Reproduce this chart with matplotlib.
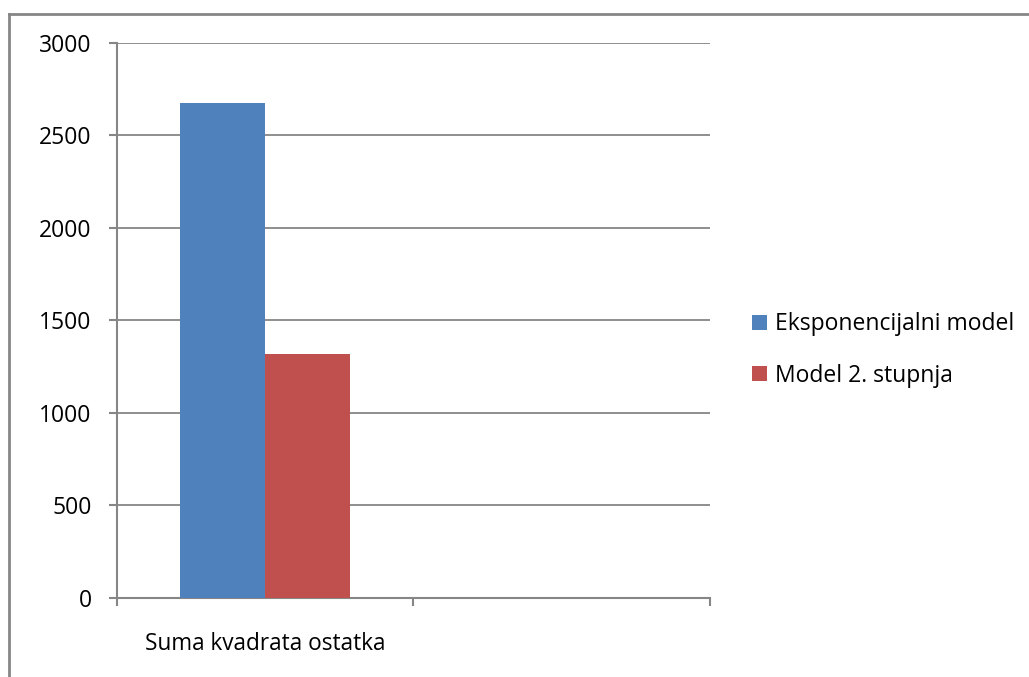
import matplotlib
matplotlib.use("Agg")
from matplotlib import pyplot as plt
from matplotlib.lines import Line2D
import numpy as np

categories = ["Suma kvadrata ostatka", ""]
series_names = ["Eksponencijalni model", "Model 2. stupnja"]
eksponencijalni = [2675, 0]
model_2 = [1317, 0]
colors = ["#4F81BD", "#C0504D"]
yticks = [0, 500, 1000, 1500, 2000, 2500, 3000]

plt.rcParams['font.family'] = ['Open Sans', 'DejaVu Sans']
GRID = "#868686"


def main():
    fig = plt.figure(figsize=(10.29, 6.77), dpi=100)
    ax = fig.add_axes([0.1134, 0.1171, 0.5766, 0.820])

    x = np.arange(len(categories))
    w = 0.2865
    ax.bar(x - w / 2, eksponencijalni, w, color=colors[0], label=series_names[0], zorder=3)
    ax.bar(x + w / 2, model_2, w, color=colors[1], label=series_names[1], zorder=3)

    ax.set_xlim(-0.5, len(categories) - 0.5)
    ax.set_ylim(0, 3000)
    ax.set_yticks(yticks)
    ax.set_yticklabels([str(v) for v in yticks], fontsize=16.5)
    ax.yaxis.grid(True, color=GRID, linewidth=1.3, zorder=0)

    # category boundaries as major ticks, labels on minor ticks
    ax.set_xticks(np.arange(len(categories) + 1) - 0.5)
    ax.set_xticklabels([])
    ax.set_xticks(x, minor=True)
    ax.set_xticklabels(categories, minor=True, fontsize=16.3)
    ax.tick_params(axis='x', which='minor', length=0, pad=25)
    ax.tick_params(axis='x', which='major', length=6, width=1.5, color=GRID, direction='out')
    ax.tick_params(axis='y', length=6, width=1.5, color=GRID, direction='out', pad=12)

    for s in ['top', 'right']:
        ax.spines[s].set_visible(False)
    for s in ['left', 'bottom']:
        ax.spines[s].set_color(GRID)
        ax.spines[s].set_linewidth(1.5)

    ax.legend(loc='center left', bbox_to_anchor=(0.7305, 0.483), bbox_transform=fig.transFigure,
              frameon=False, fontsize=16.5, handlelength=0.68, handleheight=0.68,
              handletextpad=0.35, labelspacing=1.18, borderpad=0, borderaxespad=0)

    # outer chart border (only top and left visible)
    fig.add_artist(Line2D([8.5 / 1029, 1], [1 - 13.5 / 677] * 2, color=GRID, linewidth=2))
    fig.add_artist(Line2D([8.5 / 1029] * 2, [0, 1 - 13.5 / 677], color=GRID, linewidth=2))

    fig.savefig("out.png", dpi=100)


if __name__ == '__main__':
    main()
